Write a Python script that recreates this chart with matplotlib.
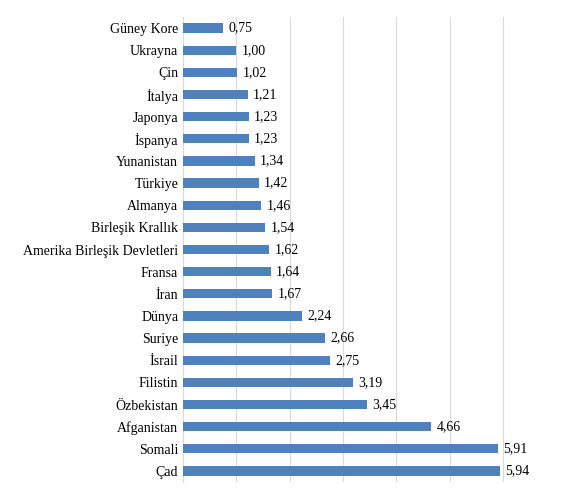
import matplotlib
matplotlib.use("Agg")
import matplotlib.pyplot as plt

countries = ["Güney Kore","Ukrayna","Çin","İtalya","Japonya","İspanya","Yunanistan","Türkiye",
             "Almanya","Birleşik Krallık","Amerika Birleşik Devletleri","Fransa","İran","Dünya",
             "Suriye","İsrail","Filistin","Özbekistan","Afganistan","Somali","Çad"]
values = [0.75,1.00,1.02,1.21,1.23,1.23,1.34,1.42,1.46,1.54,1.62,1.64,1.67,2.24,2.66,2.75,3.19,3.45,4.66,5.91,5.94]
labels = ["0,75","1,00","1,02","1,21","1,23","1,23","1,34","1,42","1,46","1,54","1,62","1,64","1,67",
          "2,24","2,66","2,75","3,19","3,45","4,66","5,91","5,94"]

plt.rcParams['font.family'] = ['Liberation Serif', 'DejaVu Serif']
fig = plt.figure(figsize=(5.74, 5.0), dpi=100)
ax = fig.add_axes([0.319, 0.036, 0.65, 0.93])
y = list(range(len(countries)))
ax.barh(y, values, height=0.42, color='#4F81BD', zorder=3)
for yi, v, l in zip(y, values, labels):
    ax.text(v + 0.1, yi, l, va='center', ha='left', fontsize=10)
ax.set_yticks(y)
ax.set_yticklabels(countries, fontsize=10)
ax.invert_yaxis()
ax.set_ylim(len(countries) - 0.5, -0.5)
ax.set_xlim(0, 7)
ax.set_xticks(range(0, 8))
ax.set_xticklabels([])
ax.tick_params(axis='both', length=0)
ax.grid(axis='x', color='#d9d9d9', linewidth=0.8, zorder=0)
for s in ['top', 'right', 'bottom']:
    ax.spines[s].set_visible(False)
ax.spines['left'].set_color('#d9d9d9')
fig.savefig("out.png", dpi=100)
